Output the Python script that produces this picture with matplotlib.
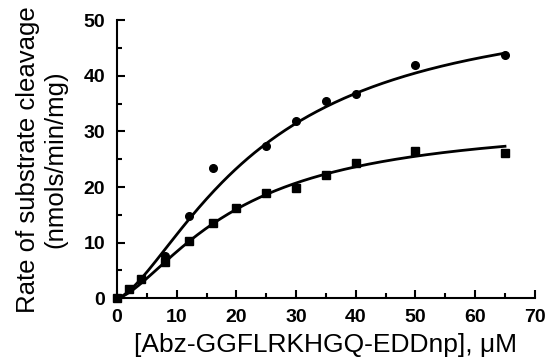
import numpy as np
import matplotlib.pyplot as plt
from matplotlib.ticker import MultipleLocator

plt.rcParams['font.family'] = ['Liberation Sans', 'DejaVu Sans']

# substrate concentration (uM) and measured rates
conc_circ = [0, 2, 4, 8, 12, 16, 25, 30, 35, 40, 50, 65]
rate_circ = [0, 1.7, 3.5, 7.6, 14.8, 23.4, 27.3, 31.9, 35.5, 36.8, 42.0, 43.8]

conc_sq = [0, 2, 4, 8, 12, 16, 20, 25, 30, 35, 40, 50, 65]
rate_sq = [0, 1.7, 3.4, 6.5, 10.2, 13.6, 16.2, 18.9, 19.9, 22.2, 24.4, 26.4, 26.2]

# Hill fit parameters (Vmax, K, n) for each series
fit_circ = (54.0, 24.0, 1.5)
fit_sq = (32.0, 20.0, 1.5)


def hill(x, vmax, k, n):
    return vmax * x ** n / (k ** n + x ** n)


fig = plt.figure(figsize=(5.48, 3.64), dpi=100)
ax = fig.add_axes([0.2135, 0.181, 0.7625, 0.763])

xs = np.linspace(0, 65, 300)
ax.plot(xs, hill(xs, *fit_circ), color='black', lw=2)
ax.plot(xs, hill(xs, *fit_sq), color='black', lw=2)
ax.plot(conc_circ, rate_circ, 'o', color='black', ms=5.5, clip_on=False)
ax.plot(conc_sq, rate_sq, 's', color='black', ms=5.5, clip_on=False)

ax.set_xlim(0, 70)
ax.set_ylim(0, 50)
ax.xaxis.set_major_locator(MultipleLocator(10))
ax.xaxis.set_minor_locator(MultipleLocator(5))
ax.yaxis.set_major_locator(MultipleLocator(10))
ax.yaxis.set_minor_locator(MultipleLocator(5))
ax.tick_params(which='both', direction='in', width=1.5)
ax.tick_params(which='major', length=6, labelsize=14)
ax.tick_params(axis='x', which='major', pad=8)
ax.tick_params(axis='y', which='major', pad=8.5)
ax.tick_params(which='minor', length=3.5)
for lab in ax.get_xticklabels() + ax.get_yticklabels():
    lab.set_fontweight('bold')

for s in ['top', 'right']:
    ax.spines[s].set_visible(False)
for s in ['left', 'bottom']:
    ax.spines[s].set_linewidth(1.5)

ax.set_xlabel('[Abz-GGFLRKHGQ-EDDnp], μM', fontsize=19, labelpad=5)
ax.set_ylabel('Rate of substrate cleavage\n(nmols/min/mg)', fontsize=18.5,
              labelpad=12, linespacing=1.15)

fig.savefig('out.png', dpi=100)
